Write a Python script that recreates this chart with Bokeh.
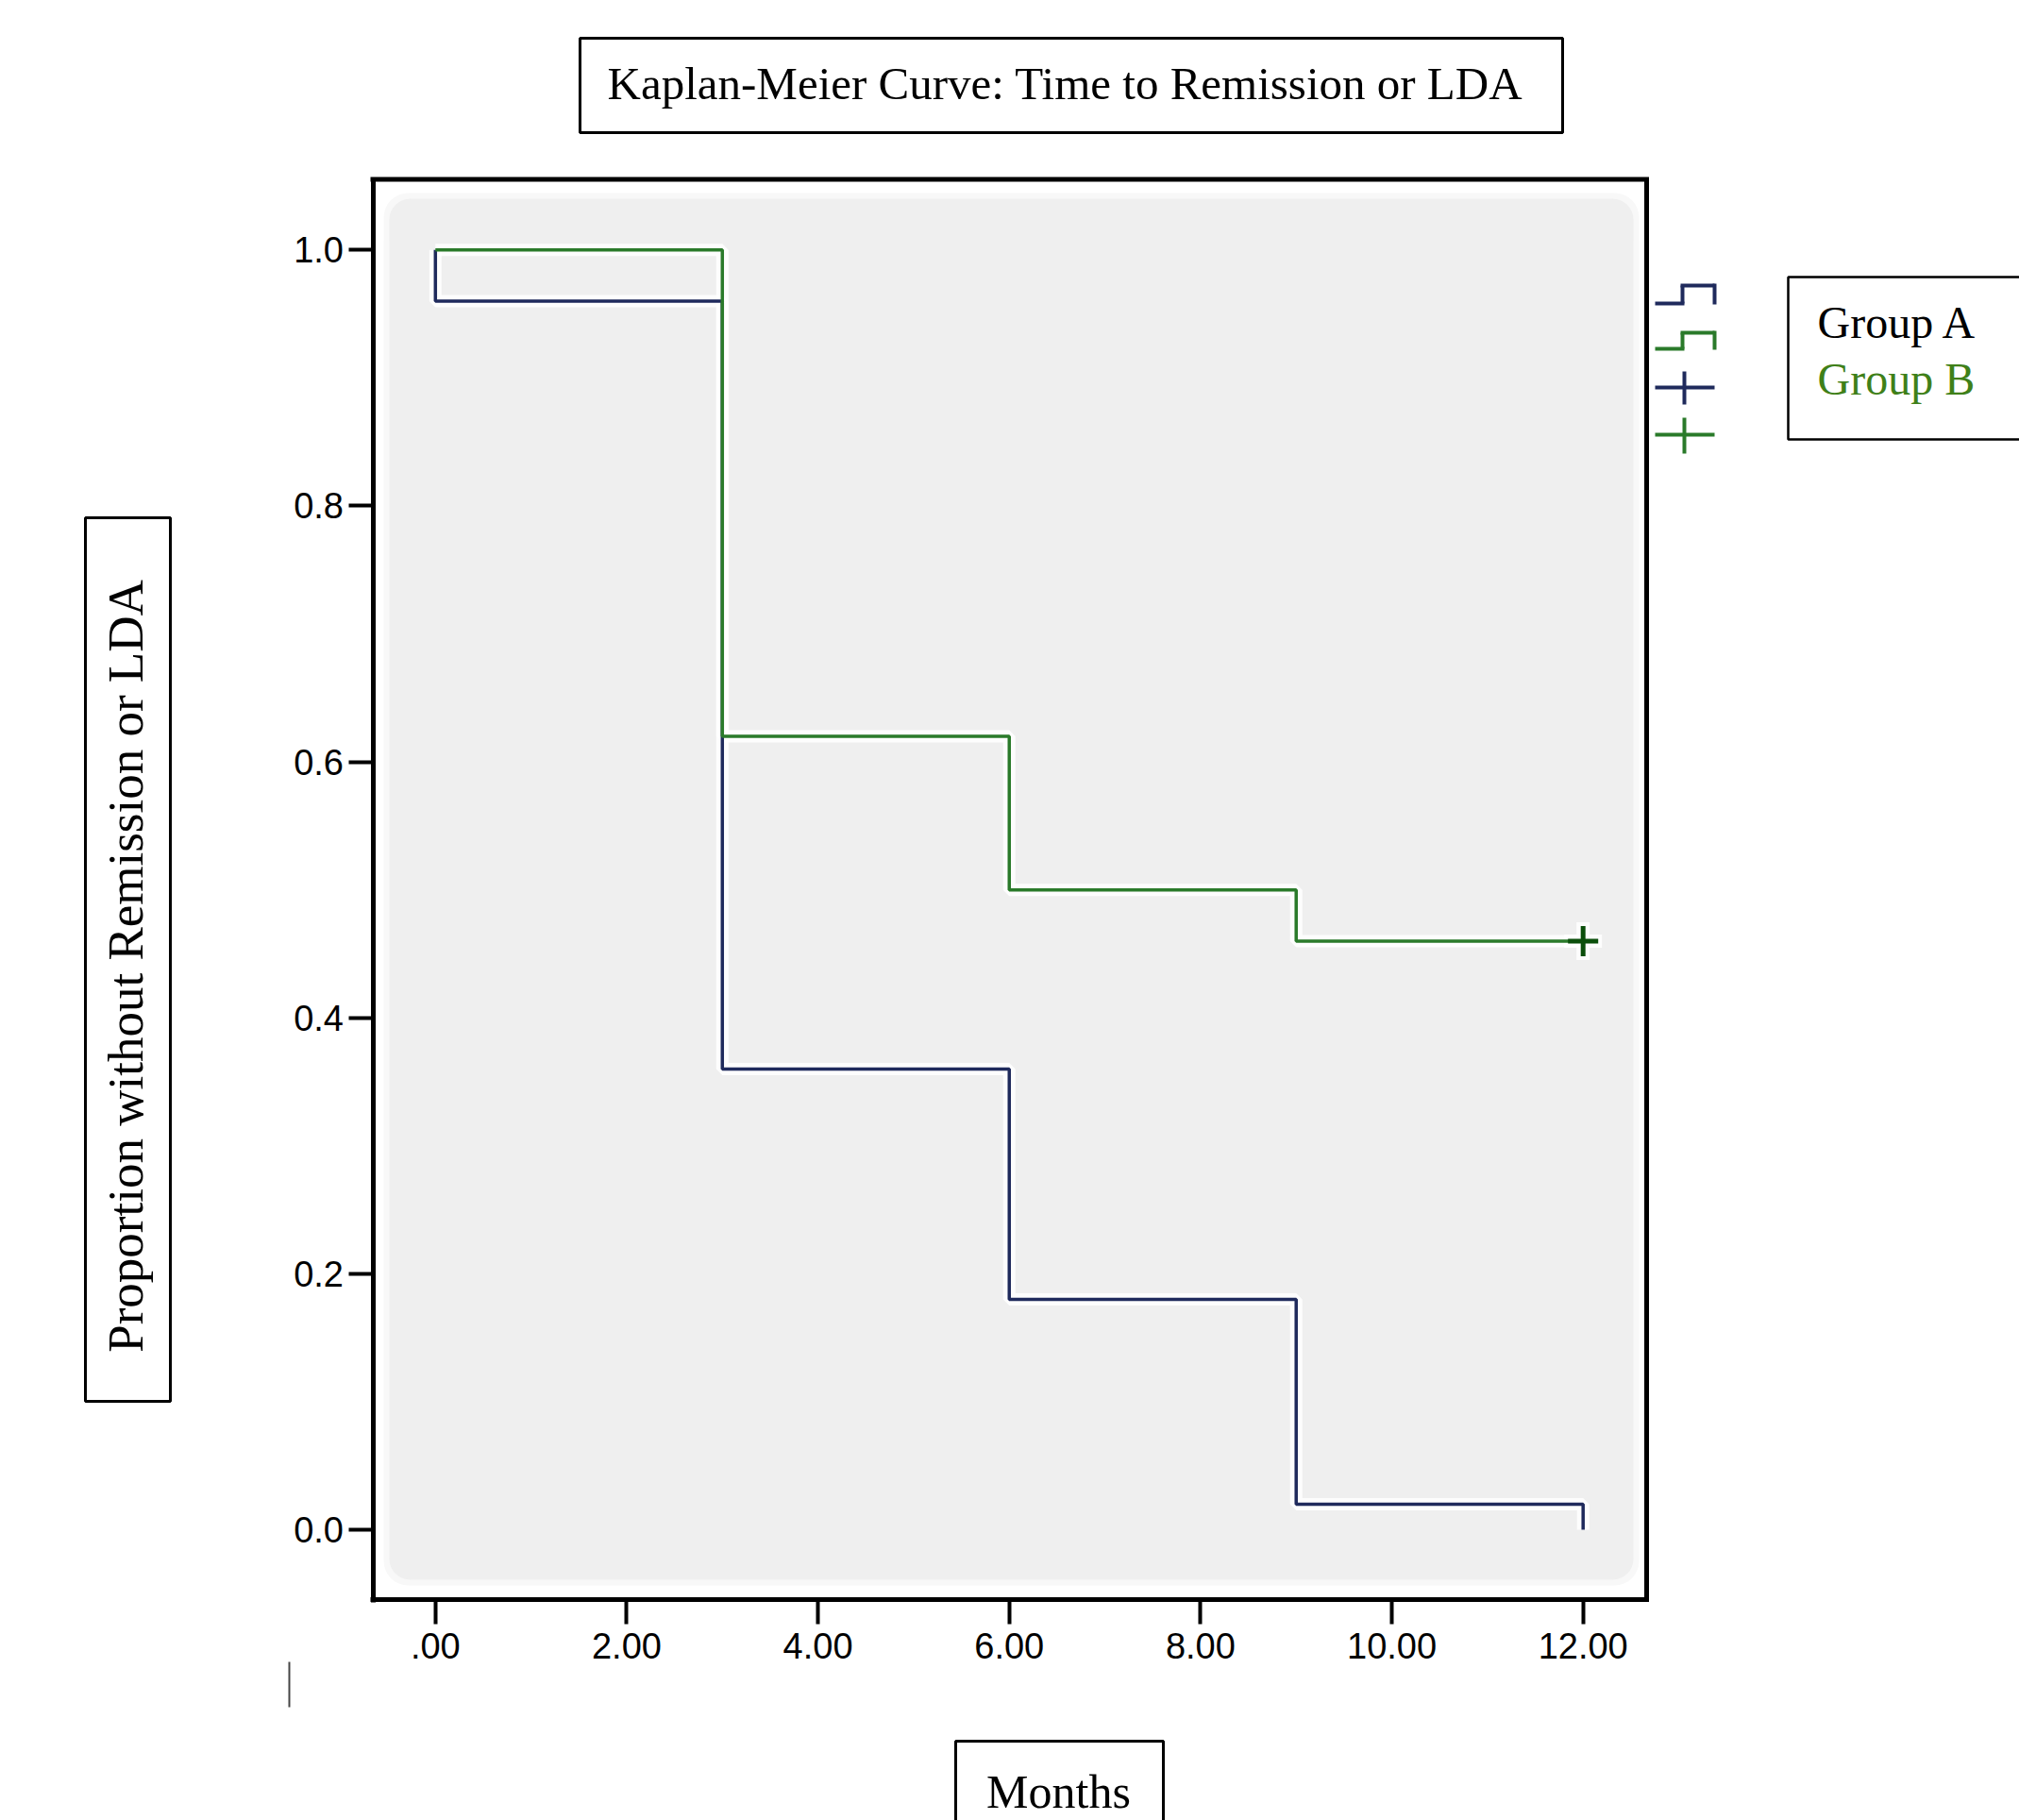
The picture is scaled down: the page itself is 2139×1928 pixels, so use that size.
import numpy as np
from bokeh.plotting import figure
from bokeh.models import Range1d, FixedTicker, Label, BoxAnnotation
from bokeh.embed import file_html
from bokeh.resources import INLINE

# ---------------- data ----------------
months_a = [0, 0, 3, 6, 9, 12]
surv_a = [1.0, 0.96, 0.36, 0.18, 0.02, 0.0]
months_b = [0, 3, 6, 9, 12]
surv_b = [1.0, 0.62, 0.50, 0.46, 0.46]
censor_b_month = [12]
censor_b_surv = [0.46]
x_ticks = [0, 2, 4, 6, 8, 10, 12]
x_tick_labels = [".00", "2.00", "4.00", "6.00", "8.00", "10.00", "12.00"]
y_ticks = [0.0, 0.2, 0.4, 0.6, 0.8, 1.0]
y_tick_labels = ["0.0", "0.2", "0.4", "0.6", "0.8", "1.0"]
groups = ["Group A", "Group B"]
title_text = "Kaplan-Meier Curve: Time to Remission or LDA"
x_label = "Months"
y_label = "Proportion without Remission or LDA"

NAVY = "#1f2a5c"
GREEN = "#2a7a2a"
GREEN_TXT = "#3f8019"
CENSOR = "#0b4f0b"
SERIF = "Liberation Serif"
SANS = "Liberation Sans"

# ---------------- geometry (canvas pixels) ----------------
W, H = 2139, 1928
PX_X0, PX_X12 = 460.8, 1676.7      # pixel of month 0 and month 12
PY_Y0, PY_Y1 = 1620.0, 264.3       # pixel of proportion 0 and 1
SX = (PX_X12 - PX_X0) / 12.0
SY = (PY_Y0 - PY_Y1) / 1.0
X0, X1 = -PX_X0 / SX, (W - PX_X0) / SX
Y0, Y1 = (PY_Y0 - H) / SY, PY_Y0 / SY
TXT_SHIFT = 17.5   # baseline correction for labels


def dx(px):
    return (px - PX_X0) / SX


def dy(py):
    return (PY_Y0 - py) / SY


p = figure(width=W, height=H, x_range=Range1d(X0, X1), y_range=Range1d(Y0, Y1),
           output_backend="svg", toolbar_location=None, min_border=0)
p.grid.visible = False
p.background_fill_color = "white"
p.border_fill_color = "white"
p.outline_line_color = None

FRAME_L, FRAME_R, FRAME_T, FRAME_B = 394.5, 1744.0, 189.5, 1694.0

for ax in (p.xaxis[0], p.yaxis[0]):
    ax.axis_line_color = "black"
    ax.axis_line_width = 5
    ax.major_tick_out = 26
    ax.major_tick_in = 0
    ax.major_tick_line_width = 4
    ax.major_tick_line_color = "black"
    ax.minor_tick_line_color = None
    ax.major_label_text_font = SANS
    ax.major_label_text_font_size = "38px"
    ax.major_label_text_color = "black"

p.xaxis.fixed_location = dy(FRAME_B)
p.xaxis.bounds = (dx(FRAME_L - 2.5), dx(FRAME_R))
p.xaxis.ticker = FixedTicker(ticks=x_ticks)
p.xaxis.major_label_overrides = {t: l for t, l in zip(x_ticks, x_tick_labels)}
p.xaxis.major_label_standoff = 9
p.yaxis.fixed_location = dx(FRAME_L)
p.yaxis.bounds = (dy(FRAME_B + 2.5), dy(FRAME_T))
p.yaxis.ticker = FixedTicker(ticks=y_ticks)
p.yaxis.major_label_overrides = {t: l for t, l in zip(y_ticks, y_tick_labels)}
p.yaxis.major_label_standoff = 5

# top and right sides of the black frame
p.line([dx(FRAME_L - 2.5), dx(FRAME_R), dx(FRAME_R)],
       [dy(FRAME_T), dy(FRAME_T), dy(FRAME_B + 2.5)],
       line_color="black", line_width=5, line_join="miter")

# gray inner panel (soft edge)
p.add_layout(BoxAnnotation(left=dx(406), right=dx(1736), top=dy(204), bottom=dy(1679),
                           fill_color="#f8f8f8", fill_alpha=1, line_color=None,
                           border_radius=26, level="underlay"))
p.add_layout(BoxAnnotation(left=dx(412), right=dx(1730), top=dy(210), bottom=dy(1673),
                           fill_color="#efefef", fill_alpha=1, line_color=None,
                           border_radius=22, level="underlay"))

# halos
p.step(months_a, surv_a, mode="after", line_color="white", line_width=13, line_alpha=0.85)
p.step(months_b, surv_b, mode="after", line_color="white", line_width=13, line_alpha=0.85)
p.scatter(censor_b_month, censor_b_surv, marker="cross", size=40, line_width=14,
          line_color="white", line_alpha=0.85)

# curves
p.step(months_a, surv_a, mode="after", line_color=NAVY, line_width=3.5)
p.step(months_b, surv_b, mode="after", line_color=GREEN, line_width=3.5)
p.scatter(censor_b_month, censor_b_surv, marker="cross", size=32, line_width=5,
          line_color=CENSOR)


# legend icons
def segs(lst, color, width=4):
    p.segment(x0=[dx(a[0]) for a in lst], y0=[dy(a[1]) for a in lst],
              x1=[dx(a[2]) for a in lst], y1=[dy(a[3]) for a in lst],
              line_color=color, line_width=width, line_cap="butt")


segs([(1753, 321, 1784, 321), (1782, 321, 1782, 302), (1780, 302, 1816, 302),
      (1816, 300, 1816, 322)], NAVY)
segs([(1753, 369, 1784, 369), (1782, 369, 1782, 352), (1780, 352, 1816, 352),
      (1816, 350, 1816, 370)], GREEN)
segs([(1753, 410, 1816, 410), (1784, 393, 1784, 428)], NAVY)
segs([(1753, 460, 1816, 460), (1784, 442, 1784, 480)], GREEN)
segs([(306, 1760, 306, 1808)], "#444444", 2)


def box(l, r, t, b, width=3):
    p.quad(left=[dx(l)], right=[dx(r)], top=[dy(t)], bottom=[dy(b)],
           fill_color=None, line_color="black", line_width=width)


# legend box + texts
box(1894, 2170, 293, 465, 2.5)
p.add_layout(Label(x=dx(1925), y=dy(358 - TXT_SHIFT), text=groups[0], text_font=SERIF,
                   text_font_size="48px", text_color="black",
                   text_align="left", text_baseline="alphabetic"))
p.add_layout(Label(x=dx(1925), y=dy(418 - TXT_SHIFT), text=groups[1], text_font=SERIF,
                   text_font_size="48px", text_color=GREEN_TXT,
                   text_align="left", text_baseline="alphabetic"))

# title
box(614, 1655, 40, 140)
p.add_layout(Label(x=dx(1128), y=dy(105 - TXT_SHIFT), text=title_text, text_font=SERIF,
                   text_font_size="49px", text_color="black",
                   text_align="center", text_baseline="alphabetic"))
# y label
box(90, 180, 548, 1484)
p.add_layout(Label(x=dx(150 - TXT_SHIFT), y=dy(1023), text=y_label, angle=np.pi / 2,
                   text_font=SERIF, text_font_size="53px", text_color="black",
                   text_align="center", text_baseline="alphabetic"))
# x label
box(1012, 1232, 1844, 1960)
p.add_layout(Label(x=dx(1121), y=dy(1915 - TXT_SHIFT), text=x_label,
                   text_font=SERIF, text_font_size="50px", text_color="black",
                   text_align="center", text_baseline="alphabetic"))

open("out.html", "w").write(file_html(p, INLINE))
